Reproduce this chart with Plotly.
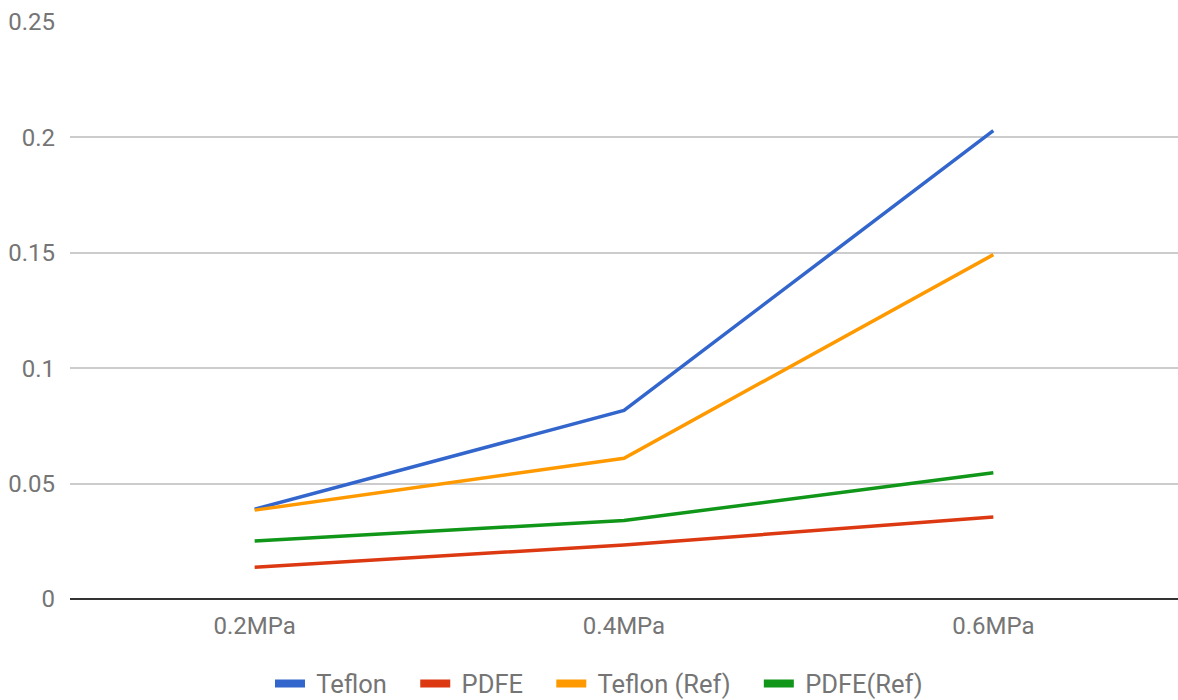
import plotly.graph_objects as go

categories = ["0.2MPa", "0.4MPa", "0.6MPa"]
teflon = [0.0389, 0.0817, 0.2029]
pdfe = [0.0138, 0.0234, 0.0355]
teflon_ref = [0.0385, 0.0610, 0.1492]
pdfe_ref = [0.0251, 0.0340, 0.0547]

series_names = ["Teflon", "PDFE", "Teflon (Ref)", "PDFE(Ref)"]
series_values = [teflon, pdfe, teflon_ref, pdfe_ref]
series_colors = ["#3366cc", "#dc3912", "#ff9900", "#109618"]

NB = "\u00a0"

fig = go.Figure()
for name, vals, color in zip(series_names, series_values, series_colors):
    fig.add_trace(go.Scatter(x=categories, y=vals, name=name, mode="lines",
                             line=dict(color=color, width=3.5), showlegend=False))
for i, (name, color) in enumerate(zip(series_names, series_colors)):
    label = NB + name + (NB * 3 + "\u2006" if i < len(series_names) - 1 else "")
    fig.add_trace(go.Scatter(x=[None], y=[None], name=label, mode="lines",
                             line=dict(color=color, width=8), showlegend=True,
                             hoverinfo="skip"))

fig.update_layout(
    width=1178, height=700,
    margin=dict(l=70, r=0, t=22, b=101, autoexpand=False),
    paper_bgcolor="white", plot_bgcolor="white",
    font=dict(family="Roboto", size=24, color="#757575"),
    legend=dict(orientation="h", x=0.1805, xanchor="left", y=-0.147, yanchor="middle",
                font=dict(size=25.5, color="#757575"), itemwidth=30),
    showlegend=True,
)
fig.update_xaxes(type="category", range=[-0.5, 2.5], showgrid=False,
                 showline=False, zeroline=False, ticks="", ticklabelstandoff=10)
fig.update_yaxes(range=[0, 0.25], tickvals=[0, 0.05, 0.1, 0.15, 0.2, 0.25],
                 ticktext=["0", "0.05", "0.1", "0.15", "0.2", "0.25"],
                 showgrid=True, gridcolor="#cccccc", gridwidth=1.5,
                 zeroline=True, zerolinecolor="#333333", zerolinewidth=2,
                 showline=False, ticks="", ticklabelstandoff=14)

fig.write_html("out.html", config={"displayModeBar": False},
               post_script="document.body.style.margin='0';document.body.style.overflow='hidden';")
